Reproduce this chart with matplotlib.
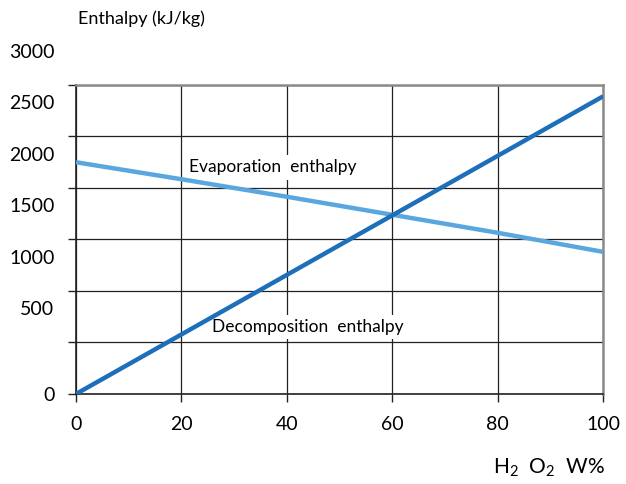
import matplotlib
matplotlib.use('Agg')
import matplotlib.pyplot as plt
import matplotlib.transforms as mtransforms

plt.rcParams['font.family'] = ['Lato', 'DejaVu Sans']
plt.rcParams['mathtext.fontset'] = 'custom'
plt.rcParams['mathtext.rm'] = 'Lato'
plt.rcParams['mathtext.it'] = 'Lato'

# H2O2 concentration (W%)
conc = [0, 20, 40, 60, 80, 100]
decomposition = [0, 578, 1156, 1734, 2312, 2890]
evaporation = [2250, 2085, 1915, 1740, 1565, 1380]

xticks = [0, 20, 40, 60, 80, 100]
yticks = [0, 500, 1000, 1500, 2000, 2500, 3000]

fig = plt.figure(figsize=(6.26, 4.84), dpi=100)
ax = fig.add_axes([0.1214, 0.186, 0.842, 0.6384])

ax.plot(conc, evaporation, color='#5aa7e0', lw=3.2, solid_capstyle='butt', zorder=3)
ax.plot(conc, decomposition, color='#1e6fb9', lw=3.2, solid_capstyle='butt', zorder=3)

ax.set_xlim(0, 100)
ax.set_ylim(0, 3000)
ax.set_xticks(xticks)
ax.set_yticks(yticks)
ax.set_xticklabels([str(v) for v in xticks], fontsize=14)
ax.set_yticklabels([str(v) for v in yticks], fontsize=14)
ax.grid(True, color='#222222', lw=0.9)
ax.set_axisbelow(True)

ax.tick_params(axis='both', length=5.5, width=1, color='#222222')
ax.tick_params(axis='x', pad=10)
ax.tick_params(axis='y', pad=10)
for s in ['top', 'right']:
    ax.spines[s].set_color('#8a8a8a')
    ax.spines[s].set_linewidth(1.8)
for s in ['left', 'bottom']:
    ax.spines[s].set_color('#222222')
    ax.spines[s].set_linewidth(1.2)

box = dict(facecolor='white', edgecolor='none', pad=3)
ax.text(37.4, 2200, 'Evaporation  enthalpy', fontsize=12.5, ha='center', va='center', bbox=box, zorder=2)
ax.text(44.0, 650, 'Decomposition  enthalpy', fontsize=12.5, ha='center', va='center', bbox=box, zorder=2)

fig.text(0.1246, 0.962, 'Enthalpy (kJ/kg)', fontsize=13, ha='left', va='center')
fig.text(0.966, 0.033, r'H$_2$  O$_2$  W%', fontsize=15, ha='right', va='center')

# y labels in the original sit about a third of a step above their gridline
fig.canvas.draw()
shift = mtransforms.ScaledTranslation(0, 0.34, fig.dpi_scale_trans)
for tick, v in zip(ax.yaxis.get_major_ticks(), yticks):
    if v != 0:
        tick.label1.set_transform(tick.label1.get_transform() + shift)

fig.savefig('out.png', dpi=100)
